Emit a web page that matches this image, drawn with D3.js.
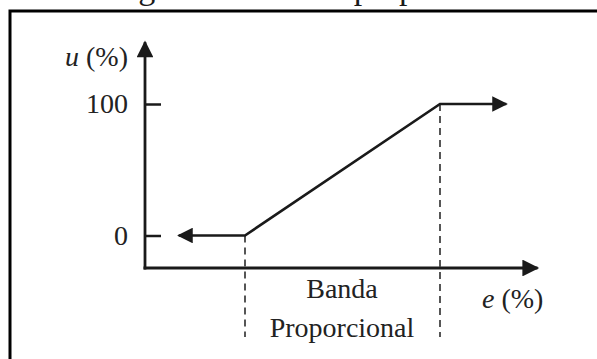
<!DOCTYPE html>
<html lang="pt">

<head>
    <meta charset="UTF-8">
    <title>Banda proporcional</title>
    <script src="https://d3js.org/d3.v7.min.js"></script>
    <style>
        html, body {
            margin: 0;
            padding: 0;
            background: #fff;
            overflow: hidden;
        }
        svg {
            display: block;
            font-family: "Liberation Serif", "Times New Roman", serif;
        }
    </style>
</head>

<body>
    <svg id="chart" width="597" height="359"></svg>

    <script>
        // controller output curve: e (%) -> u (%)
        const eValues = [-34, 0, 100, 134];
        const uValues = [0, 0, 100, 100];
        const yTicks = [0, 100];
        const bandEdges = [0, 100];
        const bandLabel = ["Banda", "Proporcional"];
        const title = "Figura 1 – Banda proporcional";

        const svg = d3.select("#chart");
        const ink = "#1a1a1a";

        // scales: band 0..100 maps onto the ramp
        const x = d3.scaleLinear().domain([0, 100]).range([245, 440]);
        const y = d3.scaleLinear().domain([0, 100]).range([235.5, 104]);
        const axisX = 145, axisY = 268;
        const xEnd = x(150), yEnd = y(147);

        // arrowhead
        svg.append("defs").append("marker")
            .attr("id", "arrow")
            .attr("viewBox", "0 0 10 10")
            .attr("refX", 9).attr("refY", 5)
            .attr("markerWidth", 6.5).attr("markerHeight", 6)
            .attr("markerUnits", "strokeWidth")
            .attr("orient", "auto-start-reverse")
            .append("path")
            .attr("d", "M0,0 L10,5 L0,10 Z")
            .attr("fill", ink);

        // title (clipped at the top like the scan, only descenders show)
        svg.append("text")
            .attr("x", 110).attr("y", -1)
            .style("font-size", "34px")
            .attr("fill", ink)
            .text(title);

        // frame
        svg.append("rect")
            .attr("x", 10).attr("y", 11)
            .attr("width", 620).attr("height", 400)
            .attr("fill", "none")
            .attr("stroke", "#000")
            .attr("stroke-width", 3);

        // y axis with ticks
        const yAxis = svg.append("g")
            .attr("transform", `translate(${axisX},0)`)
            .call(d3.axisLeft(y).tickValues(yTicks).tickSize(-16).tickPadding(17));
        yAxis.select(".domain").remove();
        yAxis.selectAll(".tick line").attr("stroke", ink).attr("stroke-width", 2.5);
        yAxis.selectAll(".tick text")
            .style("font-size", "28px")
            .style("font-family", "'Liberation Serif', 'Times New Roman', serif")
            .attr("fill", "#222");

        // axis lines
        svg.append("line")
            .attr("x1", axisX).attr("y1", axisY + 1.5)
            .attr("x2", axisX).attr("y2", yEnd)
            .attr("stroke", ink).attr("stroke-width", 2.8)
            .attr("marker-end", "url(#arrow)");
        svg.append("line")
            .attr("x1", axisX - 1.5).attr("y1", axisY)
            .attr("x2", xEnd).attr("y2", axisY)
            .attr("stroke", ink).attr("stroke-width", 2.8)
            .attr("marker-end", "url(#arrow)");

        // dashed band edges
        svg.selectAll(".edge")
            .data(bandEdges)
            .join("line")
            .attr("class", "edge")
            .attr("x1", d => x(d)).attr("x2", d => x(d))
            .attr("y1", d => y(d)).attr("y2", 337)
            .attr("stroke", "#444")
            .attr("stroke-width", 1.8)
            .attr("stroke-dasharray", "7,5");

        // response curve
        const pts = eValues.map((e, i) => [x(e), y(uValues[i])]);
        svg.append("path")
            .attr("d", d3.line()(pts))
            .attr("fill", "none")
            .attr("stroke", ink)
            .attr("stroke-width", 2.6)
            .attr("marker-start", "url(#arrow)")
            .attr("marker-end", "url(#arrow)");

        // labels
        const lbl = svg.append("g").attr("fill", "#222").style("font-size", "28px");
        const uLab = lbl.append("text").attr("x", 128).attr("y", 66).attr("text-anchor", "end");
        uLab.append("tspan").style("font-style", "italic").text("u");
        uLab.append("tspan").text(" (%)");
        const eLab = lbl.append("text").attr("x", 482).attr("y", 308);
        eLab.append("tspan").style("font-style", "italic").text("e");
        eLab.append("tspan").text(" (%)");

        lbl.selectAll(".band")
            .data(bandLabel)
            .join("text")
            .attr("class", "band")
            .attr("x", x(50) - 0.5)
            .attr("y", (d, i) => 298 + i * 39)
            .attr("text-anchor", "middle")
            .text(d => d);
    </script>
</body>

</html>
